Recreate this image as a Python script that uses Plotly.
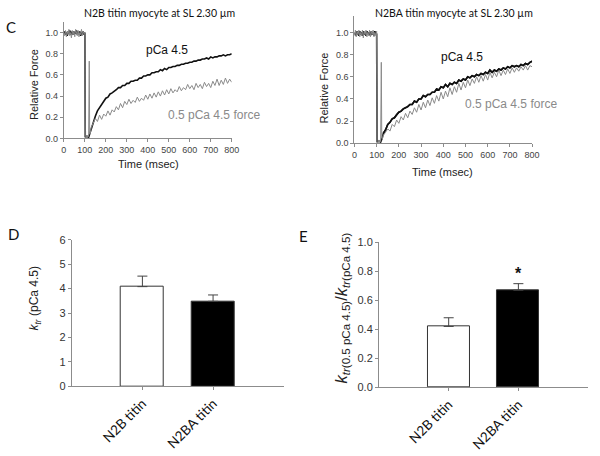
import plotly.graph_objects as go

# ---------------- DATA ----------------
# Panel C (left): N2B titin myocyte force redevelopment traces
base_t = list(range(0, 101, 4))  # 0..100 ms sampling
pre_gray_t = [102, 106, 110, 114, 118, 121, 123, 126]
pre_black_t = [102, 110, 118, 124]
rec_t = list(range(130, 801, 10))  # 130..800 ms sampling

n2b_gray_base = [1.00, 0.97, 1.02, 0.96, 1.01, 0.98, 1.03, 0.97, 1.00, 0.95, 1.02, 0.98, 1.01,
                 0.96, 1.03, 0.99, 0.97, 1.02, 0.96, 1.00, 0.98, 1.03, 0.97, 1.01, 0.99, 1.00]
n2b_gray_pre = [0.02, 0.00, 0.03, 0.01, 0.02, 0.73, 0.04, 0.05]
n2b_gray_rec = [0.10, 0.15, 0.19, 0.16, 0.22, 0.18, 0.23, 0.21, 0.26, 0.22,
                0.27, 0.25, 0.30, 0.27, 0.33, 0.29, 0.35, 0.32, 0.37, 0.33,
                0.36, 0.34, 0.39, 0.35, 0.38, 0.36, 0.41, 0.37, 0.42, 0.38,
                0.43, 0.39, 0.44, 0.40, 0.45, 0.41, 0.46, 0.42, 0.47, 0.43,
                0.46, 0.44, 0.49, 0.45, 0.48, 0.46, 0.51, 0.47, 0.50, 0.46,
                0.52, 0.48, 0.51, 0.47, 0.53, 0.49, 0.52, 0.48, 0.54, 0.50,
                0.56, 0.50, 0.55, 0.51, 0.57, 0.52, 0.56, 0.53]
n2b_black_base = [0.99, 1.01, 0.98, 1.00, 0.97, 1.01, 0.99, 1.02, 0.98, 1.00, 0.99, 1.01, 0.98,
                  1.00, 0.99, 1.02, 0.98, 1.00, 0.99, 1.01, 0.97, 1.00, 0.99, 1.01, 0.98, 1.00]
n2b_black_pre = [0.01, 0.02, 0.01, 0.05]
n2b_black_rec = [0.10, 0.16, 0.21, 0.26, 0.29, 0.33, 0.35, 0.38, 0.39, 0.42,
                 0.43, 0.45, 0.46, 0.48, 0.48, 0.50, 0.50, 0.52, 0.52, 0.54,
                 0.54, 0.55, 0.55, 0.57, 0.57, 0.59, 0.59, 0.60, 0.60, 0.62,
                 0.62, 0.63, 0.63, 0.65, 0.64, 0.66, 0.65, 0.67, 0.67, 0.68,
                 0.68, 0.69, 0.69, 0.70, 0.70, 0.71, 0.71, 0.72, 0.72, 0.73,
                 0.73, 0.74, 0.74, 0.75, 0.75, 0.76, 0.75, 0.77, 0.76, 0.77,
                 0.77, 0.78, 0.78, 0.79, 0.78, 0.79, 0.79, 0.80]

# Panel C (right): N2BA titin myocyte
n2ba_gray_base = [0.97, 1.02, 0.96, 1.01, 0.98, 1.02, 0.96, 1.00, 0.97, 1.02, 0.95, 1.01, 0.98,
                  1.02, 0.96, 1.00, 0.97, 1.02, 0.96, 1.01, 0.98, 1.02, 0.96, 1.00, 0.97, 1.01]
n2ba_gray_pre = [0.01, 0.00, 0.03, 0.01, 0.02, 0.73, 0.05, 0.04]
n2ba_gray_rec = [0.07, 0.10, 0.13, 0.11, 0.17, 0.15, 0.21, 0.18, 0.24, 0.21,
                 0.27, 0.23, 0.29, 0.26, 0.32, 0.28, 0.35, 0.30, 0.37, 0.32,
                 0.39, 0.34, 0.41, 0.36, 0.43, 0.38, 0.46, 0.40, 0.47, 0.42,
                 0.50, 0.44, 0.51, 0.46, 0.54, 0.48, 0.55, 0.50, 0.57, 0.52,
                 0.58, 0.54, 0.60, 0.55, 0.61, 0.56, 0.62, 0.57, 0.64, 0.59,
                 0.64, 0.60, 0.66, 0.61, 0.66, 0.62, 0.67, 0.63, 0.68, 0.64,
                 0.68, 0.65, 0.69, 0.66, 0.70, 0.66, 0.70, 0.69]
n2ba_black_base = [0.98, 1.00, 0.97, 1.01, 0.99, 0.97, 1.01, 0.98, 1.00, 0.97, 1.01, 0.98, 1.00,
                   0.97, 1.01, 0.99, 0.98, 1.00, 0.97, 1.01, 0.98, 1.00, 0.97, 1.01, 0.98, 0.99]
n2ba_black_pre = [0.01, 0.02, 0.01, 0.04]
n2ba_black_rec = [0.09, 0.12, 0.17, 0.19, 0.22, 0.23, 0.26, 0.28, 0.29, 0.31,
                  0.32, 0.33, 0.35, 0.35, 0.38, 0.37, 0.40, 0.40, 0.43, 0.42,
                  0.44, 0.44, 0.46, 0.46, 0.49, 0.48, 0.51, 0.50, 0.53, 0.51,
                  0.54, 0.53, 0.55, 0.54, 0.57, 0.56, 0.58, 0.57, 0.60, 0.59,
                  0.61, 0.60, 0.62, 0.61, 0.63, 0.62, 0.64, 0.63, 0.66, 0.64,
                  0.66, 0.65, 0.67, 0.66, 0.68, 0.67, 0.69, 0.68, 0.70, 0.69,
                  0.70, 0.69, 0.71, 0.70, 0.72, 0.71, 0.73, 0.74]

# Panels D and E: bar charts
groups = ["N2B titin", "N2BA titin"]
ktr_values = [4.08, 3.48]
ktr_errors = [0.43, 0.26]
ratio_values = [0.42, 0.67]
ratio_errors = [0.06, 0.045]
bar_fills = ["white", "black"]

time_ticks = [0, 100, 200, 300, 400, 500, 600, 700, 800]
force_ticks = [0.0, 0.2, 0.4, 0.6, 0.8, 1.0]

# ---------------- FIGURE ----------------
GRAY = "#8a8a8a"
BLACK = "#111111"
AXC = "#8c8c8c"
ARIAL = "Liberation Sans, Arial, sans-serif"
CAL = "Lato, Open Sans, sans-serif"

fig = go.Figure()


def add_traces(xa, ya, gb, gp, gr, bb, bp, br):
    gt = base_t + pre_gray_t + rec_t
    gv = gb + gp + gr
    bt = base_t + pre_black_t + rec_t
    bv = bb + bp + br
    fig.add_trace(go.Scatter(x=bt, y=bv, mode="lines", line=dict(color=BLACK, width=1.6),
                             xaxis=xa, yaxis=ya, showlegend=False, hoverinfo="skip"))
    fig.add_trace(go.Scatter(x=gt, y=gv, mode="lines", line=dict(color=GRAY, width=1),
                             xaxis=xa, yaxis=ya, showlegend=False, hoverinfo="skip"))


add_traces("x", "y", n2b_gray_base, n2b_gray_pre, n2b_gray_rec,
           n2b_black_base, n2b_black_pre, n2b_black_rec)
add_traces("x2", "y2", n2ba_gray_base, n2ba_gray_pre, n2ba_gray_rec,
           n2ba_black_base, n2ba_black_pre, n2ba_black_rec)
# black recovery drawn on top of the grey one in the right panel
fig.add_trace(go.Scatter(x=rec_t, y=n2ba_black_rec, mode="lines", hoverinfo="skip",
                         line=dict(color=BLACK, width=1.6), xaxis="x2", yaxis="y2", showlegend=False))

fig.add_trace(go.Bar(x=groups, y=ktr_values, width=0.6,
                     marker=dict(color=bar_fills, line=dict(color="#333", width=1)),
                     error_y=dict(type="data", symmetric=False, array=ktr_errors, arrayminus=[0, 0],
                                  color="#444", thickness=1, width=5),
                     xaxis="x3", yaxis="y3", showlegend=False))
fig.add_trace(go.Bar(x=groups, y=ratio_values, width=0.6,
                     marker=dict(color=bar_fills, line=dict(color="#333", width=1)),
                     error_y=dict(type="data", symmetric=False, array=ratio_errors, arrayminus=[0, 0],
                                  color="#444", thickness=1, width=5),
                     xaxis="x4", yaxis="y4", showlegend=False))

H = 456.0
W = 600.0


def ydom(bottom_px, top_px):
    return [1 - bottom_px / H, 1 - top_px / H]


line_ax = dict(showline=True, linecolor=AXC, linewidth=1, ticks="outside", ticklen=3,
               tickcolor=AXC, showgrid=False, zeroline=False)

fig.update_layout(
    width=600, height=456, margin=dict(l=0, r=0, t=0, b=0),
    paper_bgcolor="white", plot_bgcolor="white", bargap=0,
    xaxis=dict(domain=[62 / W, 233 / W], range=[0, 800], tickvals=time_ticks, anchor="y",
               tickfont=dict(family=ARIAL, size=9, color="#444"), **line_ax),
    yaxis=dict(domain=ydom(136, 16.4), range=[0, 1.1], tickvals=force_ticks, tickformat=".1f",
               anchor="x", tickfont=dict(family=ARIAL, size=9, color="#444"), **line_ax),
    xaxis2=dict(domain=[358 / W, 539 / W], range=[0, 800], tickvals=time_ticks, anchor="y2",
                tickfont=dict(family=ARIAL, size=9, color="#444"), **line_ax),
    yaxis2=dict(domain=ydom(141, 10), range=[0, 1.15], tickvals=force_ticks, tickformat=".1f",
                anchor="x2", tickfont=dict(family=ARIAL, size=9, color="#444"), **line_ax),
    xaxis3=dict(domain=[70 / W, 286 / W], range=[-1, 2], anchor="y3", tickangle=-45,
                tickfont=dict(family=CAL, size=13.5, color="#111"), **line_ax),
    yaxis3=dict(domain=ydom(390.7, 240), range=[0, 6], dtick=1, anchor="x3",
                tickfont=dict(family=ARIAL, size=11, color="#333"), **line_ax),
    xaxis4=dict(domain=[383 / W, 596 / W], range=[-1, 2], anchor="y4", tickangle=-45,
                tickfont=dict(family=CAL, size=13.5, color="#111"), **line_ax),
    yaxis4=dict(domain=ydom(391.7, 242.7), range=[0, 1], dtick=0.2, tickformat=".1f", anchor="x4",
                tickfont=dict(family=ARIAL, size=11, color="#333"), **line_ax),
)


def pann(text, x, y, size, family=ARIAL, color="#111", angle=0, **kw):
    fig.add_annotation(text=text, x=x / W, y=1 - y / H, xref="paper", yref="paper",
                       showarrow=False, font=dict(family=family, size=size, color=color),
                       textangle=angle, xanchor="center", yanchor="middle", **kw)


# titles and panel letters
pann("N2B titin myocyte at SL 2.30 µm", 159, 7, 10.5, family=CAL)
pann("N2BA titin myocyte at SL 2.30 µm", 459, 7, 10.5, family=CAL)
pann("C", 8, 22, 15, family=CAL)
pann("D", 11, 234, 15, family=CAL)
pann("E", 306, 236, 15, family=CAL)

# axis titles
pann("Relative Force", 31.7, 81, 11, color="#222", angle=-90)
pann("Relative Force", 326.7, 84, 11, color="#222", angle=-90)
pann("Time (msec)", 148, 162, 11, color="#222")
pann("Time (msec)", 448, 170, 11, color="#222")
pann("<i>k</i><sub><i>tr</i></sub> (pCa 4.5)", 33, 300, 12, color="#222", angle=-90)
pann("<i>k</i><sub><i>tr</i>(0.5 pCa 4.5)</sub>/<i>k</i><sub><i>tr</i>(pCa 4.5)</sub>",
     345, 310, 16.5, color="#222", angle=-90)

# trace labels
pann("pCa 4.5", 167, 45, 12, color="#111")
pann("0.5 pCa 4.5 force", 215, 112, 12, color="#8a8a8a")
pann("pCa 4.5", 468, 52, 12, color="#111")
pann("0.5 pCa 4.5 force", 517, 101, 12, color="#8a8a8a")

# significance asterisk
fig.add_annotation(text="<b>*</b>", x=groups[1], y=ratio_values[1] + ratio_errors[1] + 0.07,
                   xref="x4", yref="y4", showarrow=False,
                   font=dict(family=ARIAL, size=16, color="#111"))

fig.write_html("out.html", config={"displayModeBar": False},
               post_script="document.body.style.margin='0';document.body.style.padding='0';")
